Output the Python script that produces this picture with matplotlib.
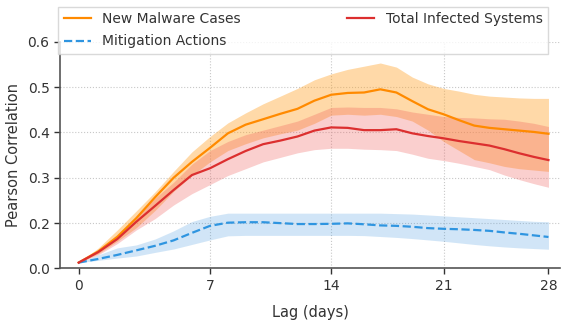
import numpy as np
import matplotlib
matplotlib.use("Agg")
import matplotlib.pyplot as plt

# lag in days
lags = list(range(29))

malware = [0.026, 0.075, 0.140, 0.211, 0.257, 0.300, 0.335, 0.366, 0.398, 0.417,
           0.429, 0.441, 0.452, 0.470, 0.483, 0.487, 0.488, 0.495, 0.488, 0.469,
           0.451, 0.440, 0.427, 0.415, 0.410, 0.407, 0.404, 0.401, 0.397]
malware_hi = [0.026, 0.090, 0.170, 0.227, 0.269, 0.314, 0.357, 0.391, 0.421, 0.443,
              0.463, 0.480, 0.497, 0.516, 0.529, 0.539, 0.546, 0.553, 0.544, 0.522,
              0.507, 0.497, 0.491, 0.484, 0.480, 0.478, 0.476, 0.475, 0.475]
malware_lo = [0.026, 0.065, 0.120, 0.180, 0.228, 0.270, 0.305, 0.335, 0.360, 0.375,
              0.388, 0.397, 0.405, 0.420, 0.438, 0.440, 0.438, 0.440, 0.435, 0.425,
              0.405, 0.380, 0.360, 0.340, 0.333, 0.325, 0.320, 0.317, 0.314]

infected = [0.026, 0.072, 0.130, 0.203, 0.238, 0.273, 0.306, 0.321, 0.341, 0.359,
            0.374, 0.382, 0.391, 0.404, 0.411, 0.410, 0.405, 0.405, 0.407, 0.398,
            0.392, 0.387, 0.381, 0.376, 0.371, 0.363, 0.354, 0.346, 0.339]
infected_hi = [0.026, 0.080, 0.145, 0.215, 0.255, 0.290, 0.330, 0.360, 0.380, 0.395,
               0.405, 0.415, 0.425, 0.440, 0.455, 0.456, 0.455, 0.455, 0.452, 0.445,
               0.440, 0.435, 0.433, 0.432, 0.430, 0.429, 0.425, 0.420, 0.413]
infected_lo = [0.026, 0.060, 0.110, 0.170, 0.210, 0.240, 0.265, 0.285, 0.305, 0.320,
               0.335, 0.345, 0.355, 0.362, 0.365, 0.365, 0.363, 0.362, 0.360, 0.352,
               0.343, 0.338, 0.332, 0.325, 0.318, 0.306, 0.296, 0.287, 0.279]

mitigation = [0.026, 0.042, 0.060, 0.080, 0.100, 0.124, 0.157, 0.188, 0.201, 0.202,
              0.202, 0.200, 0.196, 0.196, 0.197, 0.199, 0.195, 0.190, 0.188, 0.184,
              0.178, 0.175, 0.173, 0.170, 0.166, 0.159, 0.153, 0.146, 0.139]
mitigation_hi = [0.026, 0.060, 0.091, 0.104, 0.130, 0.166, 0.2035, 0.215, 0.222, 0.222,
                 0.222, 0.222, 0.222, 0.222, 0.222, 0.222, 0.222, 0.222, 0.221, 0.220,
                 0.218, 0.216, 0.214, 0.212, 0.210, 0.208, 0.206, 0.204, 0.203]
mitigation_lo = [0.026, 0.036, 0.046, 0.055, 0.071, 0.086, 0.106, 0.126, 0.144, 0.146,
                 0.146, 0.146, 0.146, 0.146, 0.146, 0.146, 0.145, 0.141, 0.137, 0.132,
                 0.126, 0.120, 0.113, 0.106, 0.100, 0.095, 0.091, 0.088, 0.085]

x_ticks = [0, 7, 14, 21, 28]
y_ticks = [0.0, 0.2, 0.3, 0.4, 0.5, 0.6]

plt.rcParams['font.family'] = 'DejaVu Sans'
fig = plt.figure(figsize=(5.67, 3.29), dpi=100)
ax = fig.add_axes([0.1058, 0.1839, 0.8819, 0.6894])

# axis scales as they appear in the picture
ax.set_xscale('function', functions=(lambda x: np.log1p(np.asarray(x) / 80.0),
                                     lambda u: 80.0 * np.expm1(np.asarray(u))))
ax.set_yscale('function', functions=(lambda y: np.where(np.asarray(y) < 0.2, np.asarray(y) / 2, np.asarray(y) - 0.1),
                                     lambda u: np.where(np.asarray(u) < 0.1, np.asarray(u) * 2, np.asarray(u) + 0.1)))

ax.fill_between(lags, malware_lo, malware_hi, color='#ffa630', alpha=0.42, lw=0)
ax.fill_between(lags, infected_lo, infected_hi, color='#ef5350', alpha=0.28, lw=0)
ax.fill_between(lags, mitigation_lo, mitigation_hi, color='#4a9be0', alpha=0.25, lw=0)

ax.plot(lags, malware, color='#ff8a00', lw=1.6, label='New Malware Cases')
ax.plot(lags, mitigation, color='#2f95e0', lw=1.6, ls='--', label='Mitigation Actions')
ax.plot(lags, infected, color='#dc2f2f', lw=1.6, label='Total Infected Systems')

ax.set_xlim(-0.95, 28.8)
ax.set_ylim(0.0, 0.6)
ax.set_xticks(x_ticks)
ax.set_yticks(y_ticks)
ax.set_xticklabels([str(t) for t in x_ticks])
ax.set_yticklabels([f'{t:.1f}' for t in y_ticks])

ax.grid(True, ls=':', color='#c8c8c8', lw=0.8)
for t in ax.xaxis.get_major_ticks():
    if t.get_loc() in (0, 28):
        t.gridline.set_visible(False)
ax.set_axisbelow(True)

for s in ['top', 'right']:
    ax.spines[s].set_visible(False)
for s in ['left', 'bottom']:
    ax.spines[s].set_color('#555555')
    ax.spines[s].set_linewidth(1.2)
ax.tick_params(colors='#333333', labelsize=10, length=4, width=1, direction='out')

ax.set_xlabel('Lag (days)', fontsize=10.5, color='#333333', labelpad=9)
ax.set_ylabel('Pearson Correlation', fontsize=10.5, color='#333333', labelpad=5)

leg = ax.legend(loc='upper left', bbox_to_anchor=(-0.004, 1.155, 0.98, 0.0),
                mode='expand', ncol=2, fontsize=10, frameon=True,
                fancybox=False, framealpha=0.8, edgecolor='#d0d0d0',
                borderaxespad=0, handlelength=2.0, labelspacing=0.6)
leg.get_frame().set_linewidth(1.0)
for txt in leg.get_texts():
    txt.set_color('#333333')

fig.savefig('out.png', dpi=100)
